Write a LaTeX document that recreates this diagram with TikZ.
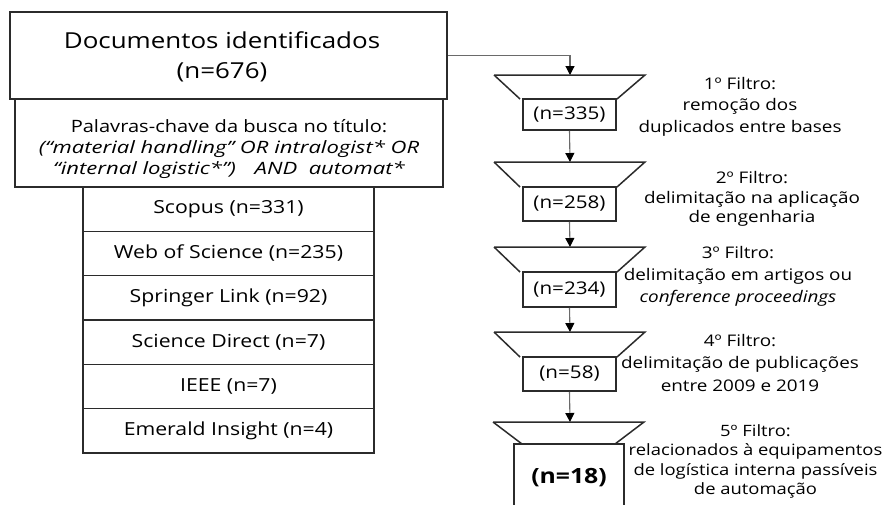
\documentclass[tikz,border=0pt]{standalone}
\usepackage{fontspec}
\usepackage{graphicx}
\setmainfont[FakeStretch=1.18]{Open Sans}
\usetikzlibrary{arrows.meta}
\definecolor{edge}{HTML}{2B2B2B}
\definecolor{wire}{HTML}{6A6A6A}
\newcommand{\wideline}[1]{\scalebox{1.1}[1]{\itshape #1}}
\tikzset{
  frame/.style={draw=edge, line width=1.5pt, inner sep=0pt, anchor=center},
  dbbox/.style={frame, minimum width=291pt, minimum height=44.3pt,
    font=\fontsize{18}{21}\selectfont},
  countbox/.style={frame, minimum width=93pt, minimum height=32pt,
    font=\fontsize{17.5}{20}\selectfont},
  funnel/.style={draw=edge, line width=1.5pt, line join=miter},
  flow/.style={draw=wire, line width=1.1pt,
    -{Triangle[length=9pt, width=9pt, color=black]}},
  note/.style={align=center, inner sep=0pt}
}
\begin{document}
\begin{tikzpicture}[x=1pt, y=-1pt]
\useasboundingbox (0,0) rectangle (888,504);

% search results and the query used
\node[frame, minimum width=437pt, minimum height=87pt] (docs) at (228.5,55.5) {};
\node[note, font=\fontsize{22}{30}\selectfont] (docstext) at (222,57)
  {Documentos identificados\\(n=676)};
\node[frame, minimum width=428pt, minimum height=88pt] (query) at (229,143) {};
\node[note, font=\fontsize{17}{21}\selectfont] (querytext) at (229,149)
  {Palavras-chave da busca no título:\\
   \wideline{(“material handling” OR intralogist* OR}\\
   \wideline{“internal logistic*”)\quad AND\ \ automat*}};

% databases
\node[dbbox] (db1) at (228.5,209.2) {Scopus (n=331)};
\node[dbbox] (db2) at (228.5,253.5) {Web of Science (n=235)};
\node[dbbox] (db3) at (228.5,297.8) {Springer Link (n=92)};
\node[dbbox] (db4) at (228.5,342.1) {Science Direct (n=7)};
\node[dbbox] (db5) at (228.5,386.4) {IEEE (n=7)};
\node[dbbox] (db6) at (228.5,430.7) {Emerald Insight (n=4)};

% filter funnels
\coordinate (t1) at (570,75);
\coordinate (t2) at (570,162);
\coordinate (t3) at (570,247);
\coordinate (t4) at (570,332);
\coordinate (t5) at (570,422);
\draw[funnel] (494,75) -- (645,75) -- (617,99) (520,99) -- (494,75);
\draw[funnel] (494,162) -- (645,162) -- (617,187) (520,187) -- (494,162);
\draw[funnel] (494,247) -- (645,247) -- (617,272) (520,272) -- (494,247);
\draw[funnel] (494,332) -- (645,332) -- (617,357) (520,357) -- (494,332);
\draw[funnel] (493,422) -- (644,422) -- (615,444) (522,444) -- (493,422);

% counts after each filter
\node[countbox, minimum height=31pt] (c1) at (569.5,114.5) {(n=335)};
\node[countbox, minimum height=34pt] (c2) at (569.5,204) {(n=258)};
\node[countbox, minimum height=35pt] (c3) at (569.5,289.5) {(n=234)};
\node[countbox, minimum height=34pt] (c4) at (569.5,374) {(n=58)};
\node[inner sep=0pt, font=\fontsize{21}{24}\selectfont\bfseries] (c5) at (569,478) {(n=18)};
\draw[edge, line width=1.5pt] (514,506) -- (514,444) -- (624,444) -- (624,506);

% connectors
\draw[flow] (docs.east) -| (t1);
\draw[flow] (c1.south) -- (t2);
\draw[flow] (c2.south) -- (t3);
\draw[flow] (c3.south) -- (t4);
\draw[flow] (c4.south) -- (t5);

% filter descriptions
\node[note, font=\fontsize{16}{21.5}\selectfont] (f1) at (740,106.5)
  {1º Filtro:\\remoção dos\\duplicados entre bases};
\node[note, font=\fontsize{16}{19.5}\selectfont] (f2) at (752,199)
  {2º Filtro:\\delimitação na aplicação\\de engenharia};
\node[note, font=\fontsize{16}{22}\selectfont] (f3) at (738,276)
  {3º Filtro:\\delimitação em artigos ou\\\itshape conference proceedings};
\node[note, font=\fontsize{16}{22.5}\selectfont] (f4) at (740,362.5)
  {4º Filtro:\\delimitação de publicações\\entre 2009 e 2019};
\node[note, font=\fontsize{15.6}{19.5}\selectfont] (f5) at (755.5,461.5)
  {5º Filtro:\\relacionados à equipamentos\\de logística interna passíveis\\de automação};
\end{tikzpicture}
\end{document}
